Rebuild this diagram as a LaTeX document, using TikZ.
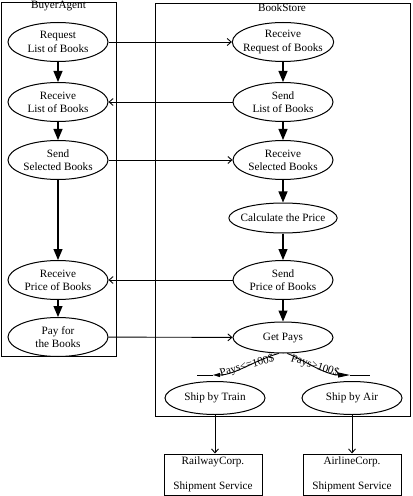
\documentclass[tikz,border=0pt]{standalone}
\usepackage{fontspec}
\setmainfont{Liberation Serif}
\usetikzlibrary{shapes.geometric,arrows.meta}
\tikzset{
  act/.style={ellipse, draw, line width=1bp, minimum width=100bp, minimum height=39bp,
    inner xsep=-4bp, inner ysep=0bp, align=center},
  act1/.style={act, minimum height=30bp},
  flow/.style={line width=1.1bp, -{Triangle[length=11bp,width=9bp]}},
  msg/.style={line width=0.9bp, -{Straight Barb[length=4bp,width=7bp]}},
  cluster/.style={draw, line width=1.2bp, inner sep=0pt, anchor=north west},
  clabel/.style={anchor=base, inner sep=0pt},
  svc/.style={draw, line width=1bp, minimum width=98bp, minimum height=41bp, inner sep=0pt, align=center},
  cond/.style={inner sep=0pt},
  plain/.style={line width=0.9bp}
}
\begin{document}
\begin{tikzpicture}[x=1bp, y=-1bp, font=\fontsize{11.2bp}{13.3bp}\selectfont]
\useasboundingbox (0,0) rectangle (412,496);

% clusters
\node[cluster, minimum width=115bp, minimum height=354bp] (buyer) at (1,2) {};
\node[clabel] (buyerlab) at (58.5,9) {BuyerAgent};
\node[cluster, minimum width=255bp, minimum height=413bp] (store) at (154.5,3) {};
\node[clabel] (storelab) at (282,12) {BookStore};

% buyer activities
\node[act] (req) at (58,42) {Request\\List of Books};
\node[act] (rcl) at (58,102) {Receive\\List of Books};
\node[act] (ssb) at (58,160) {Send\\Selected Books};
\node[act] (rpb) at (58,280) {Receive\\Price of Books};
\node[act] (pay) at (58,337) {Pay for\\the Books};

% store activities
\node[act] (rrb) at (283,42) {Receive\\Request of Books};
\node[act] (slb) at (283,102) {Send\\List of Books};
\node[act] (rsb) at (283,160) {Receive\\Selected Books};
\node[act1] (calc) at (283,218) {Calculate the Price};
\node[act] (spb) at (283,280) {Send\\Price of Books};
\node[act1, minimum height=31bp] (gp) at (283,337.5) {Get Pays};
\node[act1, minimum height=33bp] (sbt) at (215,398) {Ship by Train};
\node[act1, minimum height=33bp] (sba) at (352,398) {Ship by Air};

% services
\node[svc] (rail) at (213,474.5) {RailwayCorp.\\[11.7bp]Shipment Service};
\node[svc] (air) at (352,474.5) {AirlineCorp.\\[11.7bp]Shipment Service};

% flows within clusters
\draw[flow] (req) -- (rcl);
\draw[flow] (rcl) -- (ssb);
\draw[flow] (ssb) -- (rpb);
\draw[flow] (rpb) -- (pay);
\draw[flow] (rrb) -- (slb);
\draw[flow] (slb) -- (rsb);
\draw[flow] (rsb) -- (calc);
\draw[flow] (calc) -- (spb);
\draw[flow] (spb) -- (gp);

% messages
\draw[msg] (req) -- (rrb);
\draw[msg] (slb) -- (rcl);
\draw[msg] (ssb) -- (rsb);
\draw[msg] (spb) -- (rpb);
\draw[msg] (pay) -- (gp);

% conditional branches
\coordinate (lt) at (213,375);
\coordinate (lt2) at (197,375);
\coordinate (rt) at (350,375);
\coordinate (rt2) at (370,375);
\draw[plain, -{Triangle[length=7bp,width=4bp]}] (gp.255) .. controls (255,360) and (235,375) .. (lt);
\draw[plain] (lt) -- (lt2);
\draw[plain, -{Triangle[length=12bp,width=5bp]}] (gp.285) .. controls (300,358) and (325,375) .. (rt);
\draw[plain] (rt) -- (rt2);
\node[cond, rotate=16] (c1) at (247,366) {Pays<=100\$};
\node[cond, rotate=-18] (c2) at (315,366) {Pays>100\$};

% to services
\draw[msg] (sbt.south) -- (sbt.south |- rail.north);
\draw[msg] (sba.south) -- (sba.south |- air.north);
\end{tikzpicture}
\end{document}
